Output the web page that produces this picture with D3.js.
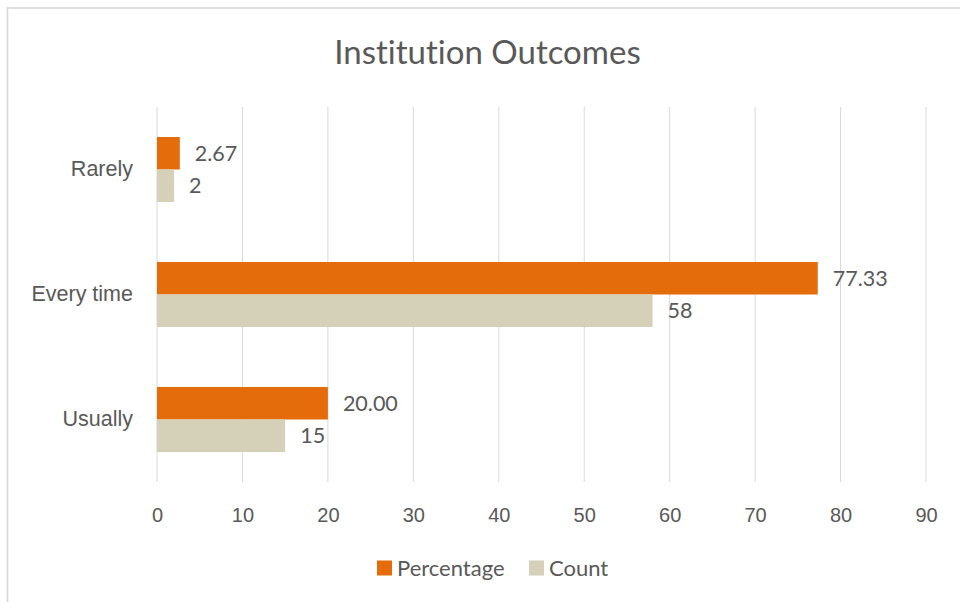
<!DOCTYPE html>
<meta charset="utf-8">
<head>
    <style>
        *{ padding: 0; margin: 0; }
        body{ background: #fff; }
        svg{ display: block; font-family: Lato, "Open Sans", sans-serif; font-variant-ligatures: none; }
        .tick text{ fill: #595959; }
    </style>
</head>
<body>
    <svg id="chart" width="960" height="602"></svg>
    <script src="https://cdn.jsdelivr.net/npm/d3@7/dist/d3.min.js"></script>
    <script>
        // data
        var categories = ["Rarely", "Every time", "Usually"];
        var seriesNames = ["Percentage", "Count"];
        var percentage = [2.67, 77.33, 20.00];
        var count = [2, 58, 15];
        var xTicks = [0, 10, 20, 30, 40, 50, 60, 70, 80, 90];

        var colors = ["#E46C0A", "#D5D0B8"];
        var textColor = "#595959";

        var rows = categories.map(function(c, i) {
            return { name: c, values: [
                { key: "Percentage", value: percentage[i], label: percentage[i].toFixed(2) },
                { key: "Count", value: count[i], label: String(count[i]) }
            ]};
        });

        var svg = d3.select("#chart");
        var margin = { left: 157, right: 34, top: 107, bottom: 120 };
        var width = 960 - margin.left - margin.right;
        var height = 602 - margin.top - margin.bottom;

        // outer chart border (only top/left visible in the crop)
        svg.append("rect")
            .attr("x", 7.5).attr("y", 8)
            .attr("width", 1200).attr("height", 1200)
            .attr("fill", "none")
            .attr("stroke", "#d9d9d9")
            .attr("stroke-width", 1.6);

        svg.append("text")
            .attr("x", 487.5).attr("y", 64)
            .attr("text-anchor", "middle")
            .attr("fill", textColor)
            .style("font-size", "33px")
            .text("Institution Outcomes");

        var g = svg.append("g")
            .attr("transform", "translate(" + margin.left + "," + margin.top + ")");

        var x = d3.scaleLinear().domain([0, 90]).range([0, width]);
        var y = d3.scaleBand().domain(categories).range([0, height])
            .paddingInner(0.48).paddingOuter(0.24);
        var y1 = d3.scaleBand().domain(seriesNames).range([0, y.bandwidth()]);

        // gridlines
        g.append("g")
            .selectAll("line")
            .data(xTicks)
            .enter().append("line")
            .attr("x1", function(d) { return x(d); })
            .attr("x2", function(d) { return x(d); })
            .attr("y1", 0)
            .attr("y2", height)
            .attr("stroke", "#d9d9d9")
            .attr("stroke-width", 1);

        // x axis labels
        var xAxis = g.append("g")
            .attr("transform", "translate(0," + height + ")")
            .call(d3.axisBottom(x).tickValues(xTicks).tickSize(0).tickPadding(26));
        xAxis.select(".domain").remove();
        xAxis.selectAll("text").style("font-size", "20px").attr("font-family", null);

        // y axis labels
        var yAxis = g.append("g")
            .call(d3.axisLeft(y).tickSize(0).tickPadding(24));
        yAxis.select(".domain").remove();
        yAxis.selectAll("text").style("font-size", "21.5px").attr("font-family", null);

        var group = g.selectAll(".cat")
            .data(rows)
            .enter().append("g")
            .attr("class", "cat")
            .attr("transform", function(d) { return "translate(0," + y(d.name) + ")"; });

        group.selectAll("rect")
            .data(function(d) { return d.values; })
            .enter().append("rect")
            .attr("x", x(0))
            .attr("y", function(d) { return y1(d.key); })
            .attr("width", function(d) { return x(d.value) - x(0); })
            .attr("height", y1.bandwidth())
            .attr("fill", function(d, i) { return colors[i]; });

        group.selectAll("text.val")
            .data(function(d) { return d.values; })
            .enter().append("text")
            .attr("class", "val")
            .attr("x", function(d) { return x(d.value) + 15; })
            .attr("y", function(d) { return y1(d.key) + y1.bandwidth() / 2; })
            .attr("dy", "0.36em")
            .attr("fill", textColor)
            .style("font-size", "21.5px")
            .text(function(d) { return d.label; });

        // legend
        var legend = svg.append("g").attr("transform", "translate(0,568)");
        var legendX = [377, 529];
        var item = legend.selectAll("g")
            .data(seriesNames)
            .enter().append("g")
            .attr("transform", function(d, i) { return "translate(" + legendX[i] + ",0)"; });
        item.append("rect")
            .attr("x", 0).attr("y", -7.5)
            .attr("width", 15).attr("height", 15)
            .attr("fill", function(d, i) { return colors[i]; });
        item.append("text")
            .attr("x", 20).attr("y", 0)
            .attr("dy", "0.36em")
            .attr("fill", textColor)
            .style("font-size", "22px")
            .text(function(d) { return d; });
    </script>
</body>
